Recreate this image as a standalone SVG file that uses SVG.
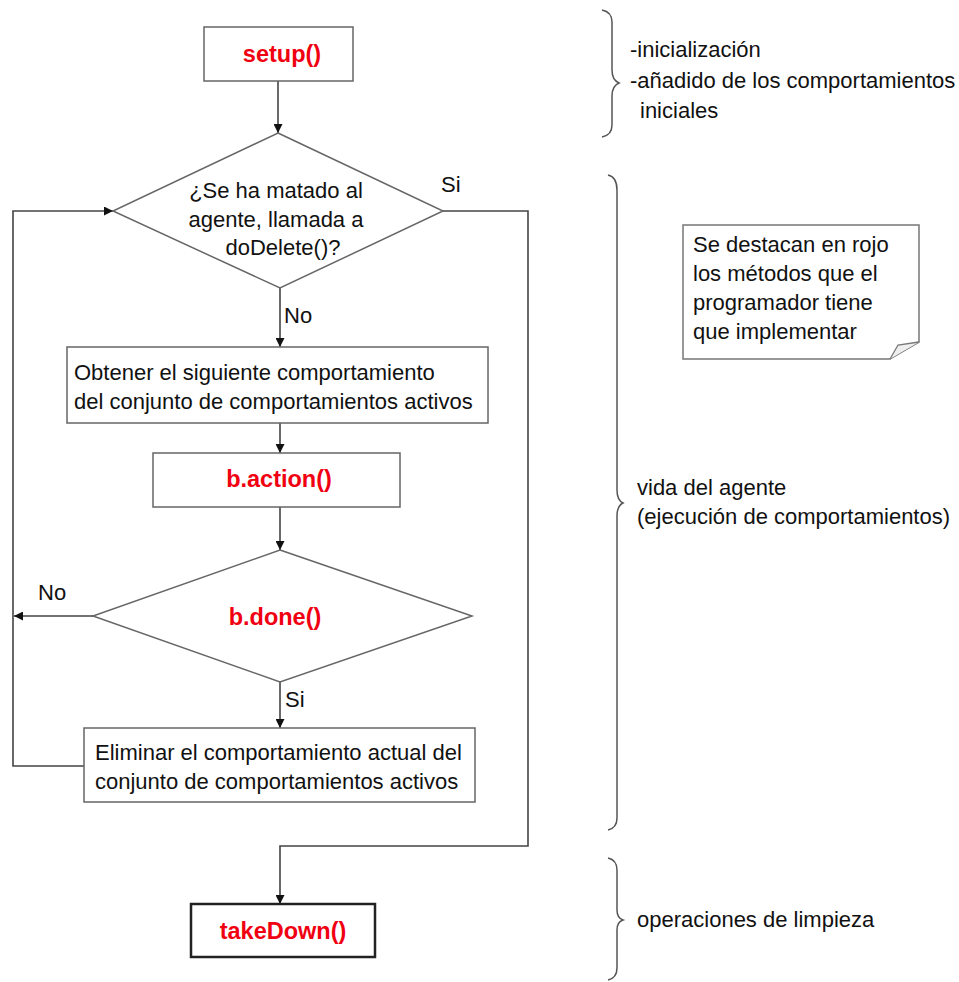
<svg xmlns="http://www.w3.org/2000/svg" width="959" height="982" viewBox="0 0 959 982">
<defs>
<marker id="ah" viewBox="0 0 10 10" refX="10" refY="5" markerWidth="9" markerHeight="9" markerUnits="userSpaceOnUse" orient="auto">
<path d="M0,0 L10,5 L0,10 Z" fill="#111"/>
</marker>
<style>
.box{fill:#fff;stroke:#666;stroke-width:1.5}
.boxk{fill:#fff;stroke:#222;stroke-width:2.5}
.t{font-family:"Liberation Sans",Arial,sans-serif;font-size:22px;fill:#111}
.r{font-family:"Liberation Sans",Arial,sans-serif;font-size:23.5px;font-weight:bold;fill:#f00010}
.c{fill:none;stroke:#444;stroke-width:1.6}
.br{fill:none;stroke:#555;stroke-width:1.5}
</style>
</defs>
<rect width="959" height="982" fill="#fff"/>

<g id="connectors">
<path class="c" d="M278,81 V133" marker-end="url(#ah)"/>
<path class="c" d="M280,288 V347" marker-end="url(#ah)"/>
<path class="c" d="M280,423 V453" marker-end="url(#ah)"/>
<path class="c" d="M280,507 V550" marker-end="url(#ah)"/>
<path class="c" d="M280,682 V728" marker-end="url(#ah)"/>
<path class="c" d="M93,616 H14" marker-end="url(#ah)"/>
<path class="c" d="M84,766 H13 V211 H113" marker-end="url(#ah)"/>
<path class="c" d="M443,211 H528 V846 H280 V904" marker-end="url(#ah)"/>
<text class="t" x="441" y="192">Si</text>
<text class="t" x="284" y="323">No</text>
<text class="t" x="38" y="600">No</text>
<text class="t" x="285" y="707">Si</text>
</g>

<g id="setup">
<rect class="box" x="204" y="27" width="149" height="54"/>
<text class="r" x="282" y="62" text-anchor="middle">setup()</text>
</g>

<g id="decision-delete">
<polygon class="box" points="278,133 443,211 280,288 113,211"/>
<text class="t" x="276" y="198" text-anchor="middle">¿Se ha matado al</text>
<text class="t" x="276" y="227" text-anchor="middle">agente, llamada a</text>
<text class="t" x="283" y="255" text-anchor="middle">doDelete()?</text>
</g>

<g id="obtener">
<rect class="box" x="67" y="347" width="421" height="76"/>
<text class="t" x="74" y="380">Obtener el siguiente comportamiento</text>
<text class="t" x="74" y="409">del conjunto de comportamientos activos</text>
</g>

<g id="action">
<rect class="box" x="153" y="453" width="247" height="54"/>
<text class="r" x="279" y="487" text-anchor="middle">b.action()</text>
</g>

<g id="decision-done">
<polygon class="box" points="280,550 472,616 280,682 93,616"/>
<text class="r" x="275" y="625" text-anchor="middle">b.done()</text>
</g>

<g id="eliminar">
<rect class="box" x="84" y="728" width="391" height="74"/>
<text class="t" x="95" y="760">Eliminar el comportamiento actual del</text>
<text class="t" x="95" y="789">conjunto de comportamientos activos</text>
</g>

<g id="takedown">
<rect class="boxk" x="191" y="904" width="184" height="53"/>
<text class="r" x="283" y="939" text-anchor="middle">takeDown()</text>
</g>

<g id="note">
<path d="M683,225 H919 V342 L890,359 H683 Z" fill="#fff" stroke="#777" stroke-width="1.5"/>
<path d="M919,342 L898,345 L890,359" fill="#eee" stroke="#777" stroke-width="1.3"/>
<text class="t" x="693" y="252">Se destacan en rojo</text>
<text class="t" x="693" y="281">los métodos que el</text>
<text class="t" x="693" y="310">programador tiene</text>
<text class="t" x="693" y="339">que implementar</text>
</g>

<g id="brace-init">
<path class="br" d="M602,10 Q612,12 612,22 V70 Q612,80 619,83 Q612,86 612,96 V125 Q612,135 602,137"/>
<text class="t" x="630" y="57">-inicialización</text>
<text class="t" x="630" y="88">-añadido de los comportamientos</text>
<text class="t" x="640" y="118">iniciales</text>
</g>

<g id="brace-life">
<path class="br" d="M608,175 Q617,177 617,190 V490 Q617,500 623,503 Q617,506 617,516 V818 Q617,828 608,830"/>
<text class="t" x="637" y="495">vida del agente</text>
<text class="t" x="637" y="524">(ejecución de comportamientos)</text>
</g>

<g id="brace-cleanup">
<path class="br" d="M608,858 Q617,860 617,870 V910 Q617,918 623,920 Q617,922 617,930 V968 Q617,978 608,980"/>
<text class="t" x="637" y="927">operaciones de limpieza</text>
</g>
</svg>
